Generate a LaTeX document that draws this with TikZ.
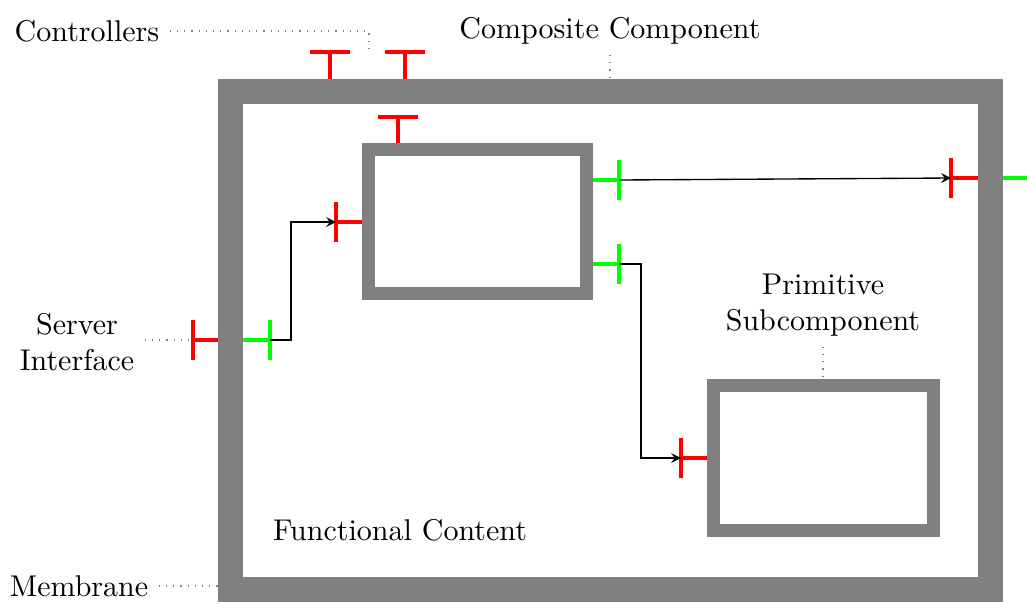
\documentclass[tikz,border=0pt]{standalone}
\begin{document}
\begin{tikzpicture}[x=0.3333pt, y=-0.3333pt, >=stealth,
	membrane/.style={draw=gray, line width=8.33pt},
	subcomp/.style={draw=gray, line width=4.33pt},
	srvitf/.style={draw=red, line width=1.4pt},
	cltitf/.style={draw=green, line width=1.4pt},
	leader/.style={dotted, gray, line width=0.4pt},
	binding/.style={->, line width=0.45pt}]
	\useasboundingbox (0,0) rectangle (1027,603);
	% membrane and subcomponents
	\draw[membrane] (230.5,91.5) rectangle (990.5,589.5);
	\draw[subcomp] (368.5,149.5) rectangle (586.5,293.5);
	\draw[subcomp] (713.5,385.5) rectangle (933.5,530.5);
	% controllers
	\draw[srvitf] (310,52)--(350,52) (330,52)--(330,79);
	\draw[srvitf] (385,52)--(425,52) (405,52)--(405,79);
	\draw[srvitf] (378,117)--(418,117) (398,117)--(398,143);
	% interfaces
	\coordinate (srvext) at (193,340);
	\coordinate (srvint) at (270,340);
	\coordinate (subsrv) at (336,222);
	\coordinate (subclt1) at (619,180);
	\coordinate (subclt2) at (619,264);
	\coordinate (cltint) at (951,178);
	\coordinate (primsrv) at (681,458);
	\draw[srvitf] (193,320)--(193,360) (srvext)--(218,340);
	\draw[cltitf] (243,340)--(srvint) (270,320)--(270,360);
	\draw[srvitf] (336,202)--(336,242) (subsrv)--(362,222);
	\draw[cltitf] (593,180)--(subclt1) (619,160)--(619,200);
	\draw[cltitf] (593,264)--(subclt2) (619,244)--(619,284);
	\draw[srvitf] (951,158)--(951,198) (cltint)--(978,178);
	\draw[cltitf] (1003,178)--(1027,178);
	\draw[srvitf] (681,438)--(681,478) (primsrv)--(707,458);
	% bindings
	\draw[binding] (srvint) -- ++(21,0) |- (subsrv);
	\draw[binding] (subclt1) -- (cltint);
	\draw[binding] (subclt2) -- ++(22,0) |- (primsrv);
	% labels
	\node (ctrl) at (87,31) {Controllers};
	\node (comp) at (610,31) {Composite Component};
	\node[align=center] (srvlab) at (77,342) {Server\\Interface};
	\node (memlab) at (79,586) {Membrane};
	\node (funlab) at (400,530) {Functional Content};
	\node[align=center] (primlab) at (823,305) {Primitive\\Subcomponent};
	\coordinate (ctrlend) at (369,52);
	\coordinate (compend) at (610,79);
	\coordinate (memend) at (218,586);
	\coordinate (primend) at (823,379);
	\draw[leader] (ctrl.east) -| (ctrlend);
	\draw[leader] (comp.south) -- (compend);
	\draw[leader] (srvlab.east |- srvext) -- (srvext);
	\draw[leader] (memlab.east) -- (memend);
	\draw[leader] (primlab.south) -- (primend);
\end{tikzpicture}
\end{document}
